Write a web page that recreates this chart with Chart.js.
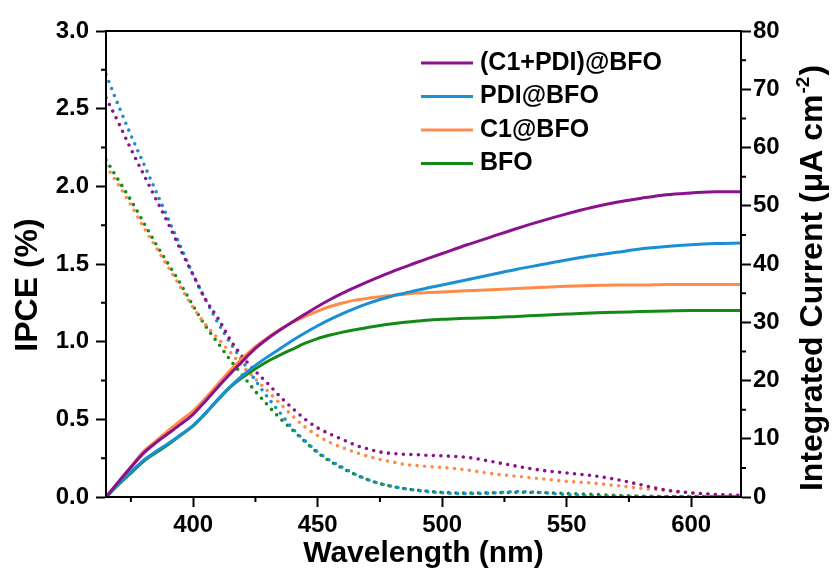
<!DOCTYPE html>
<html>
<head>
<meta charset="utf-8">
<script src="https://cdn.jsdelivr.net/npm/chart.js@4.4.0/dist/chart.umd.min.js"></script>
<style>
  html, body { margin: 0; padding: 0; background: #fff; }
  #wrap { width: 836px; height: 570px; }
</style>
</head>
<body>
<div id="wrap"><canvas id="ipce-chart" width="836" height="570"></canvas></div>
<script>
// wavelength grid (nm)
const wavelength = [365, 370, 375, 380, 385, 390, 395, 400, 405, 410, 415, 420, 425, 430, 435, 440, 445, 450, 455, 460,
  465, 470, 475, 480, 485, 490, 495, 500, 510, 520, 530, 540, 550, 560, 570, 580, 590, 600, 610, 620];

const seriesNames = ["(C1+PDI)@BFO", "PDI@BFO", "C1@BFO", "BFO"];

// integrated current, uA cm-2 (right axis, solid)
const currentC1PDI = [0, 2.6, 5.1, 7.5, 9.3, 10.9, 12.5, 14.2, 16.5, 18.9, 21.2, 23.4, 25.5, 27.2, 28.7, 30.1, 31.4, 32.7, 33.9, 35.0,
  36.0, 36.95, 37.85, 38.7, 39.5, 40.3, 41.05, 41.8, 43.3, 44.7, 46.1, 47.4, 48.6, 49.7, 50.6, 51.3, 51.9, 52.2, 52.4, 52.4];
const currentPDI = [0, 2.2, 4.3, 6.3, 7.8, 9.2, 10.7, 12.3, 14.4, 16.8, 19.0, 20.9, 22.6, 24.1, 25.5, 26.9, 28.2, 29.4, 30.5, 31.5,
  32.4, 33.2, 33.9, 34.5, 35.0, 35.5, 35.95, 36.4, 37.3, 38.2, 39.1, 39.9, 40.7, 41.4, 42.0, 42.6, 43.0, 43.3, 43.5, 43.6];
const currentC1 = [0, 2.6, 5.2, 7.8, 9.6, 11.4, 13.1, 14.8, 17.0, 19.4, 21.8, 23.9, 25.8, 27.4, 28.8, 30.0, 31.0, 31.9, 32.7, 33.3,
  33.8, 34.1, 34.4, 34.6, 34.8, 35.0, 35.1, 35.2, 35.4, 35.6, 35.8, 36.0, 36.2, 36.3, 36.4, 36.4, 36.5, 36.5, 36.5, 36.5];
const currentBFO = [0, 2.1, 4.1, 6.1, 7.6, 9.0, 10.6, 12.2, 14.4, 16.7, 18.9, 20.6, 22.0, 23.3, 24.4, 25.4, 26.4, 27.2, 27.8, 28.3,
  28.7, 29.1, 29.45, 29.75, 30.0, 30.2, 30.4, 30.5, 30.7, 30.8, 31.0, 31.2, 31.4, 31.6, 31.7, 31.85, 31.95, 32.0, 32.0, 32.0];

// IPCE, % (left axis, dotted)
const ipceC1PDI = [2.57, 2.41, 2.24, 2.08, 1.92, 1.76, 1.59, 1.43, 1.27, 1.15, 1.01, 0.90, 0.81, 0.73, 0.645, 0.57, 0.50, 0.445, 0.405, 0.37,
  0.335, 0.31, 0.29, 0.28, 0.275, 0.272, 0.268, 0.265, 0.255, 0.228, 0.198, 0.172, 0.155, 0.138, 0.113, 0.078, 0.044, 0.027, 0.016, 0.01];
const ipcePDI = [2.72, 2.52, 2.33, 2.15, 1.97, 1.79, 1.61, 1.43, 1.27, 1.12, 0.99, 0.87, 0.75, 0.64, 0.54, 0.44, 0.36, 0.29, 0.235, 0.19,
  0.147, 0.113, 0.086, 0.068, 0.054, 0.042, 0.033, 0.027, 0.022, 0.025, 0.035, 0.028, 0.015, 0.006, 0.004, 0.003, 0.003, 0.003, 0.003, 0.003];
const ipceC1 = [2.13, 2.01, 1.88, 1.74, 1.61, 1.48, 1.35, 1.22, 1.11, 1.02, 0.93, 0.84, 0.76, 0.68, 0.60, 0.52, 0.45, 0.395, 0.35, 0.318,
  0.288, 0.263, 0.242, 0.226, 0.21, 0.202, 0.196, 0.19, 0.174, 0.15, 0.133, 0.117, 0.101, 0.09, 0.074, 0.056, 0.043, 0.027, 0.016, 0.01];
const ipceBFO = [2.17, 2.04, 1.91, 1.77, 1.63, 1.50, 1.37, 1.23, 1.10, 0.99, 0.88, 0.78, 0.68, 0.59, 0.505, 0.43, 0.355, 0.285, 0.23, 0.185,
  0.145, 0.112, 0.086, 0.068, 0.054, 0.044, 0.036, 0.03, 0.025, 0.027, 0.03, 0.028, 0.022, 0.017, 0.01, 0.005, 0.003, 0.003, 0.003, 0.003];

// tick values
const xTicks = [400, 450, 500, 550, 600];
const xMinorTicks = [375, 425, 475, 525, 575];
const ipceMinorTicks = [0.25, 0.75, 1.25, 1.75, 2.25, 2.75];
const currentMinorTicks = [5, 15, 25, 35, 45, 55, 65, 75];

const colors = ["#8a128c", "#1a8fd4", "#ff8a4a", "#138a16"];
const fontFamily = '"Liberation Sans", Arial, Helvetica, sans-serif';

function toPoints(ys) {
  return wavelength.map((x, i) => ({ x: x, y: ys[i] }));
}

const currentSeries = [currentC1PDI, currentPDI, currentC1, currentBFO];
const ipceSeries = [ipceC1PDI, ipcePDI, ipceC1, ipceBFO];

const datasets = [];
currentSeries.forEach((ys, i) => {
  datasets.push({
    label: seriesNames[i],
    data: toPoints(ys),
    yAxisID: "yCurrent",
    borderColor: colors[i],
    borderWidth: 3,
    pointRadius: 0,
    cubicInterpolationMode: "monotone",
  });
});
ipceSeries.forEach((ys, i) => {
  datasets.push({
    label: seriesNames[i] + " IPCE",
    data: toPoints(ys),
    yAxisID: "yIpce",
    borderColor: colors[i],
    borderWidth: 3.6,
    borderDash: [0, 7.5],
    borderCapStyle: "round",
    pointRadius: 0,
    cubicInterpolationMode: "monotone",
  });
});

// frame, minor ticks, legend and axis titles
const decorations = {
  id: "decorations",
  afterDraw(chart) {
    const { ctx, chartArea: a, scales } = chart;
    ctx.save();
    ctx.strokeStyle = "#000";
    ctx.lineWidth = 2;
    ctx.strokeRect(a.left, a.top, a.right - a.left, a.bottom - a.top);

    ctx.beginPath();
    xMinorTicks.forEach((v) => {
      const px = scales.x.getPixelForValue(v);
      ctx.moveTo(px, a.bottom);
      ctx.lineTo(px, a.bottom + 5);
    });
    ipceMinorTicks.forEach((v) => {
      const py = scales.yIpce.getPixelForValue(v);
      ctx.moveTo(a.left, py);
      ctx.lineTo(a.left - 5, py);
    });
    currentMinorTicks.forEach((v) => {
      const py = scales.yCurrent.getPixelForValue(v);
      ctx.moveTo(a.right, py);
      ctx.lineTo(a.right + 5, py);
    });
    ctx.stroke();

    // legend
    ctx.font = "bold 25px " + fontFamily;
    ctx.fillStyle = "#000";
    ctx.textAlign = "left";
    ctx.textBaseline = "middle";
    seriesNames.forEach((name, i) => {
      const y = a.top + 32 + i * 33.5;
      ctx.strokeStyle = colors[i];
      ctx.lineWidth = 3;
      ctx.beginPath();
      ctx.moveTo(a.left + 315, y);
      ctx.lineTo(a.left + 367, y);
      ctx.stroke();
      ctx.fillText(name, a.left + 374, y);
    });

    // x title
    ctx.textAlign = "center";
    ctx.textBaseline = "alphabetic";
    ctx.font = "bold 30px " + fontFamily;
    ctx.fillText("Wavelength (nm)", (a.left + a.right) / 2, 562);

    // left title
    ctx.save();
    ctx.translate(37, 285);
    ctx.rotate(-Math.PI / 2);
    ctx.font = "bold 32px " + fontFamily;
    ctx.fillText("IPCE (%)", 0, 0);
    ctx.restore();

    // right title with superscript
    ctx.save();
    ctx.translate(822, 279);
    ctx.rotate(-Math.PI / 2);
    ctx.textAlign = "left";
    const mainFont = "bold 32px " + fontFamily;
    const supFont = "bold 19px " + fontFamily;
    const part1 = "Integrated Current (\u03BCA cm";
    const part2 = "-2";
    const part3 = ")";
    ctx.font = mainFont;
    const w1 = ctx.measureText(part1).width;
    const w3 = ctx.measureText(part3).width;
    ctx.font = supFont;
    const w2 = ctx.measureText(part2).width;
    let x0 = -(w1 + w2 + w3) / 2;
    ctx.font = mainFont;
    ctx.fillText(part1, x0, 0);
    ctx.font = supFont;
    ctx.fillText(part2, x0 + w1 + 1, -13);
    ctx.font = mainFont;
    ctx.fillText(part3, x0 + w1 + w2 + 2, 0);
    ctx.restore();

    ctx.restore();
  },
};

const tickFont = { family: fontFamily, size: 24, weight: "bold" };
const gridOpts = { drawOnChartArea: false, tickLength: 10, tickWidth: 2, tickColor: "#000" };
const borderOpts = { color: "#000", width: 2 };

const ctx = document.getElementById("ipce-chart").getContext("2d");
const chart = new Chart(ctx, {
  type: "line",
  data: { datasets: datasets },
  plugins: [decorations],
  options: {
    responsive: false,
    animation: false,
    devicePixelRatio: 1,
    layout: { padding: { top: 31, left: 0, right: 0, bottom: 0 } },
    plugins: { legend: { display: false }, tooltip: { enabled: false } },
    scales: {
      x: {
        type: "linear",
        min: 365,
        max: 620,
        afterBuildTicks: (scale) => {
          scale.ticks = xTicks.map((v) => ({ value: v }));
        },
        afterFit: (scale) => {
          scale.height = 73;
        },
        ticks: { font: tickFont, color: "#000", padding: 4, maxRotation: 0 },
        grid: gridOpts,
        border: borderOpts,
      },
      yIpce: {
        position: "left",
        min: 0,
        max: 3,
        afterFit: (scale) => {
          scale.width = 106;
        },
        ticks: {
          stepSize: 0.5,
          font: tickFont,
          color: "#000",
          padding: 7,
          callback: (v) => v.toFixed(1),
        },
        grid: gridOpts,
        border: borderOpts,
      },
      yCurrent: {
        position: "right",
        min: 0,
        max: 80,
        afterFit: (scale) => {
          scale.width = 95;
        },
        ticks: { stepSize: 10, font: tickFont, color: "#000", padding: 2 },
        grid: gridOpts,
        border: borderOpts,
      },
    },
  },
});
</script>
</body>
</html>
